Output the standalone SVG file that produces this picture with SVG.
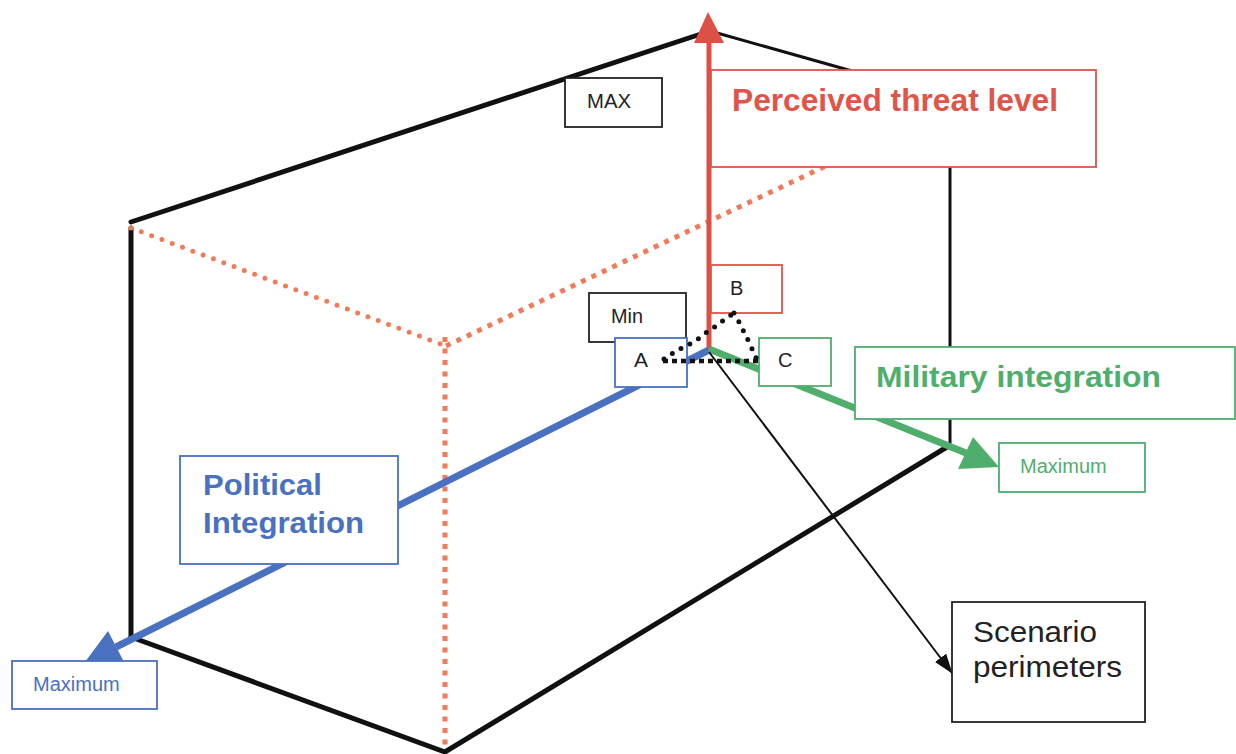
<svg xmlns="http://www.w3.org/2000/svg" width="1236" height="754" viewBox="0 0 1236 754">
<style>
text{font-family:"Liberation Sans",Arial,sans-serif}
.edge{stroke:#111;stroke-width:5;fill:none;stroke-linecap:round}
.thin{stroke:#111;stroke-width:3;fill:none}
.dotr{stroke:#ef7b5b;stroke-width:5;fill:none;stroke-linecap:round;stroke-dasharray:0 11}
.dots{stroke:#ef7b5b;stroke-width:5;fill:none;stroke-dasharray:5 6.5}
.box{fill:#fff;stroke-width:1.8}
.big{font-weight:bold;font-size:30px}
.sm{font-size:20px;fill:#222}
</style>
<defs>
<marker id="ah" markerWidth="20" markerHeight="14" refX="19" refY="7" orient="auto" markerUnits="userSpaceOnUse" viewBox="0 0 20 14">
<path d="M0,0 L20,7 L0,14 Z" fill="#111"/>
</marker>
</defs>
<g id="cube">
<line class="edge" x1="131" y1="222" x2="710" y2="31"/>
<line class="thin" x1="710" y1="31" x2="852" y2="71"/>
<line class="edge" x1="131" y1="228" x2="131" y2="637"/>
<line class="edge" x1="131" y1="637" x2="445" y2="752"/>
<line class="edge" x1="445" y1="752" x2="947" y2="447"/>
<line class="thin" x1="950" y1="165" x2="950" y2="446"/>
<line class="dotr" x1="131" y1="228" x2="446" y2="346"/>
<line class="dots" x1="446" y1="346" x2="830" y2="164"/>
<line class="dots" x1="445" y1="337" x2="445" y2="748"/>
</g>
<g id="connectors">
<line x1="709" y1="350" x2="709" y2="40" stroke="#dc5046" stroke-width="5"/>
<polygon points="708,12 724,43 694,43" fill="#dc5046"/>
<line x1="709" y1="350" x2="116" y2="647" stroke="#4a70c2" stroke-width="7"/>
<polygon points="85,662 108,631 124,662" fill="#4a70c2"/>
<line x1="709" y1="349" x2="966" y2="453" stroke="#4fae6c" stroke-width="7"/>
<polygon points="999,467 973,437 958,469" fill="#4fae6c"/>
<line x1="709" y1="352" x2="952" y2="673" stroke="#111" stroke-width="2" marker-end="url(#ah)"/>
</g>
<g id="threat">
<rect class="box" x="711" y="70" width="385" height="97" stroke="#e0544a"/>
<text x="732" y="111" class="big" style="font-size:31px" fill="#e0544a" textLength="326" lengthAdjust="spacingAndGlyphs">Perceived threat level</text>
</g>
<g id="max">
<rect class="box" x="565" y="78" width="97" height="49" stroke="#222"/>
<text x="587" y="108" class="sm" textLength="44" lengthAdjust="spacingAndGlyphs">MAX</text>
</g>
<g id="min">
<rect class="box" x="589" y="293" width="97" height="49" stroke="#222"/>
<text x="611" y="323" class="sm" textLength="32" lengthAdjust="spacingAndGlyphs">Min</text>
</g>
<g id="nodeA">
<rect class="box" x="615" y="338" width="72" height="49" stroke="#4a70c2"/>
<text x="634" y="367" class="sm" style="font-size:21px">A</text>
</g>
<g id="nodeB">
<rect class="box" x="711" y="265" width="71" height="48" stroke="#e0544a"/>
<text x="730" y="295" class="sm">B</text>
</g>
<g id="nodeC">
<rect class="box" x="759" y="338" width="72" height="48" stroke="#4fae6c"/>
<text x="778" y="367" class="sm">C</text>
</g>
<g id="triangle">
<line x1="663" y1="361" x2="760" y2="361" stroke="#111" stroke-width="4.5" stroke-dasharray="5 4"/>
<polyline points="664,359 676,351 688,345 698,339 707,332 716,326 725,319 734,313" fill="none" stroke="#111" stroke-width="5" stroke-linecap="round" stroke-dasharray="0 10"/>
<polyline points="734,313 738,320 743,330 748,340 753,351 757,360" fill="none" stroke="#111" stroke-width="5" stroke-linecap="round" stroke-dasharray="0 10"/>
</g>
<g id="political">
<rect class="box" x="180" y="456" width="218" height="108" stroke="#4a70c2"/>
<text x="203" y="495" class="big" fill="#4a70c2" textLength="119" lengthAdjust="spacingAndGlyphs">Political</text>
<text x="203" y="533" class="big" fill="#4a70c2" textLength="161" lengthAdjust="spacingAndGlyphs">Integration</text>
</g>
<g id="military">
<rect class="box" x="855" y="347" width="380" height="72" stroke="#4fae6c"/>
<text x="876" y="387" class="big" fill="#4fae6c" textLength="285" lengthAdjust="spacingAndGlyphs">Military integration</text>
</g>
<g id="maxBlue">
<rect class="box" x="12" y="661" width="145" height="48" stroke="#4a70c2"/>
<text x="33" y="691" class="sm" style="fill:#4a70c2">Maximum</text>
</g>
<g id="maxGreen">
<rect class="box" x="999" y="443" width="146" height="49" stroke="#4fae6c"/>
<text x="1020" y="473" class="sm" style="fill:#4fae6c">Maximum</text>
</g>
<g id="scenario">
<rect class="box" x="952" y="602" width="193" height="120" stroke="#222"/>
<text x="973" y="642" font-size="30" fill="#222" textLength="124" lengthAdjust="spacingAndGlyphs">Scenario</text>
<text x="973" y="677" font-size="30" fill="#222" textLength="149" lengthAdjust="spacingAndGlyphs">perimeters</text>
</g>
</svg>
